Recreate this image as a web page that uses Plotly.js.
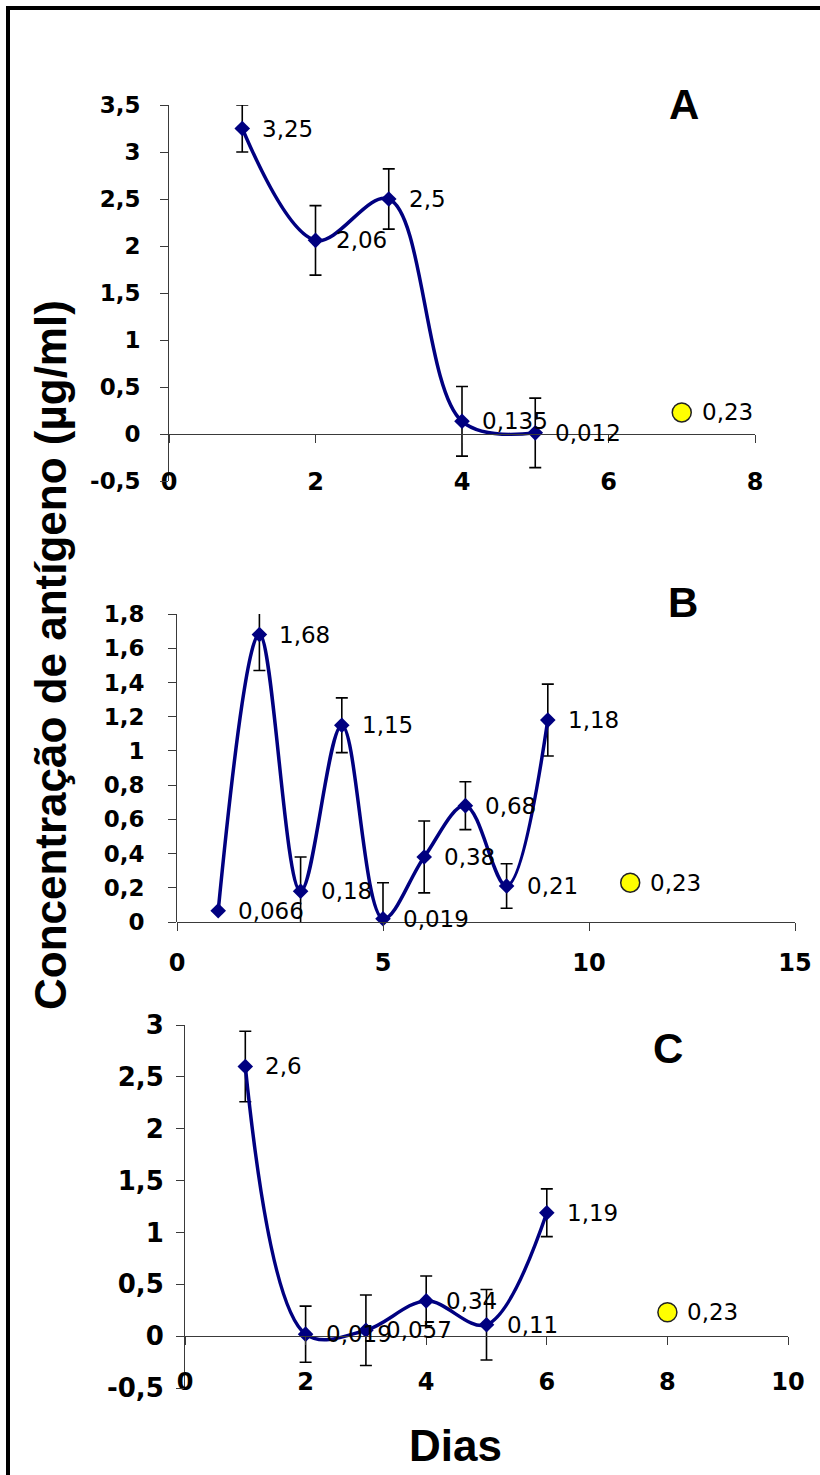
<!DOCTYPE html>
<html><head><meta charset="utf-8">
<script src="https://cdn.plot.ly/plotly-3.0.1.min.js"></script>
<style>
html,body{margin:0;padding:0;background:#fff;}
#wrap{position:relative;width:820px;height:1475px;overflow:hidden;}
#chart{position:absolute;left:0;top:0;width:820px;height:1475px;}
#frameL{position:absolute;left:6px;top:6px;width:4px;height:1469px;background:#000;}
#frameT{position:absolute;left:6px;top:6px;width:814px;height:4px;background:#000;}
</style></head><body>
<div id="wrap"><div id="chart"></div><div id="frameL"></div><div id="frameT"></div></div>
<script>
// ---- Data ----
// Panel A
const daysA = [1, 2, 3, 4, 5];
const concA = [3.25, 2.06, 2.5, 0.135, 0.012];
const errA  = [0.25, 0.37, 0.32, 0.37, 0.37];
const ctrlDayA = [7];
const ctrlA = [0.23];
// Panel B
const daysB = [1, 2, 3, 4, 5, 6, 7, 8, 9];
const concB = [0.066, 1.68, 0.18, 1.15, 0.019, 0.38, 0.68, 0.21, 1.18];
const errB  = [null, 0.21, 0.2, 0.16, 0.21, 0.21, 0.14, 0.13, 0.21];
const ctrlDayB = [11];
const ctrlB = [0.23];
// Panel C
const daysC = [1, 2, 3, 4, 5, 6];
const concC = [2.6, 0.019, 0.057, 0.34, 0.11, 1.19];
const errC  = [0.34, 0.27, 0.34, 0.24, 0.34, 0.23];
const ctrlDayC = [8];
const ctrlC = [0.23];
// Tick values
const xTicksA = [0, 2, 4, 6, 8];
const yTicksA = [-0.5, 0, 0.5, 1, 1.5, 2, 2.5, 3, 3.5];
const xTicksB = [0, 5, 10, 15];
const yTicksB = [0, 0.2, 0.4, 0.6, 0.8, 1, 1.2, 1.4, 1.6, 1.8];
const xTicksC = [0, 2, 4, 6, 8, 10];
const yTicksC = [-0.5, 0, 0.5, 1, 1.5, 2, 2.5, 3];
const panelLetters = ['A', 'B', 'C'];
const yTitle = 'Concentração de antígeno (µg/ml)';
const xTitle = 'Dias';

// ---- Layout helpers ----
const W = 820, H = 1475;
const px = v => v / W, py = v => 1 - v / H;
const fmt = v => String(v).replace('.', ',');
const NAVY = '#000080';
const AXC = '#3a3a3a';
const NUMFONT = 'DejaVu Sans, Verdana, sans-serif';

const panels = [
  {sfx:'',  x:daysA, y:concA, e:errA, cx:ctrlDayA, cy:ctrlA, xr:[0,8],  yr:[-0.5,3.5], xt:xTicksA, yt:yTicksA,
   dx:[169,755], dy:[481,105], xs:18, ys:15, yfs:23, letter:[684,104]},
  {sfx:'2', x:daysB, y:concB, e:errB, cx:ctrlDayB, cy:ctrlB, xr:[0,15], yr:[0,1.8],    xt:xTicksB, yt:yTicksB,
   dx:[177,795], dy:[922,614], xs:11, ys:19, yfs:23, letter:[683,602]},
  {sfx:'3', x:daysC, y:concC, e:errC, cx:ctrlDayC, cy:ctrlC, xr:[0,10], yr:[-0.5,3],   xt:xTicksC, yt:yTicksC,
   dx:[185,788], dy:[1388,1025], xs:16, ys:7, yfs:26, letter:[668,1048]}
];

const traces = [];
const layout = {
  width: W, height: H,
  margin: {l:0, r:0, t:0, b:0, pad:0},
  paper_bgcolor: '#fff', plot_bgcolor: 'rgba(0,0,0,0)',
  showlegend: false,
  font: {family: 'Liberation Sans, Arial, sans-serif', color: '#000'},
  annotations: []
};

panels.forEach((p, i) => {
  const xa = 'x' + p.sfx, ya = 'y' + p.sfx;
  const yd = [py(p.dy[0]), py(p.dy[1])];
  const zeroPos = yd[0] + (0 - p.yr[0]) / (p.yr[1] - p.yr[0]) * (yd[1] - yd[0]);
  layout['xaxis' + p.sfx] = {
    domain: [px(p.dx[0]), px(p.dx[1])], range: p.xr, anchor: 'free', position: zeroPos,
    showline: true, linecolor: AXC, linewidth: 1, ticks: 'outside', ticklen: 8, tickcolor: AXC, tickwidth: 1,
    tickmode: 'array', tickvals: p.xt, ticktext: p.xt.map(fmt), ticklabelstandoff: p.xs,
    tickfont: {family: NUMFONT, size: 24, weight: 'bold', color: '#000'},
    showgrid: false, zeroline: false, fixedrange: true
  };
  layout['yaxis' + p.sfx] = {
    domain: yd, range: p.yr, anchor: xa,
    showline: true, linecolor: AXC, linewidth: 1, ticks: 'outside', ticklen: 8, tickcolor: AXC, tickwidth: 1,
    tickmode: 'array', tickvals: p.yt, ticktext: p.yt.map(fmt), ticklabelstandoff: p.ys,
    tickfont: {family: NUMFONT, size: p.yfs, weight: 'bold', color: '#000'},
    showgrid: false, zeroline: false, fixedrange: true
  };
  traces.push({
    type: 'scatter', mode: 'lines+markers', x: p.x, y: p.y, xaxis: xa, yaxis: ya,
    line: {color: NAVY, width: 3.5, shape: 'spline', smoothing: 1},
    marker: {symbol: 'diamond', size: 12, color: NAVY},
    error_y: {type: 'data', array: p.e, visible: true, color: '#000', thickness: 1.6, width: 6},
    cliponaxis: false, hoverinfo: 'skip'
  });
  traces.push({
    type: 'scatter', mode: 'markers', x: p.cx, y: p.cy, xaxis: xa, yaxis: ya,
    marker: {symbol: 'circle', size: 19, color: '#ffff00', line: {color: '#222', width: 1.5}},
    cliponaxis: false, hoverinfo: 'skip'
  });
  const allX = p.x.concat(p.cx), allY = p.y.concat(p.cy);
  allX.forEach((xv, k) => {
    layout.annotations.push({
      xref: xa, yref: ya, x: xv, y: allY[k], text: fmt(allY[k]), showarrow: false,
      xanchor: 'left', yanchor: 'middle', xshift: 18,
      font: {family: NUMFONT, size: 23, color: '#000'}
    });
  });
  layout.annotations.push({
    xref: 'paper', yref: 'paper', x: px(p.letter[0]), y: py(p.letter[1]), text: panelLetters[i],
    showarrow: false, xanchor: 'center', yanchor: 'middle',
    font: {family: 'Liberation Sans, Arial, sans-serif', size: 42, weight: 'bold', color: '#000'}
  });
});

layout.annotations.push({
  xref: 'paper', yref: 'paper', x: px(50), y: py(655), text: yTitle, textangle: -90,
  showarrow: false, xanchor: 'center', yanchor: 'middle',
  font: {family: 'Liberation Sans, Arial, sans-serif', size: 44, weight: 'bold', color: '#000'}
});
layout.annotations.push({
  xref: 'paper', yref: 'paper', x: px(455), y: py(1445), text: xTitle,
  showarrow: false, xanchor: 'center', yanchor: 'middle',
  font: {family: 'Liberation Sans, Arial, sans-serif', size: 44, weight: 'bold', color: '#000'}
});

Plotly.newPlot('chart', traces, layout, {staticPlot: true, displayModeBar: false});
</script></body></html>
